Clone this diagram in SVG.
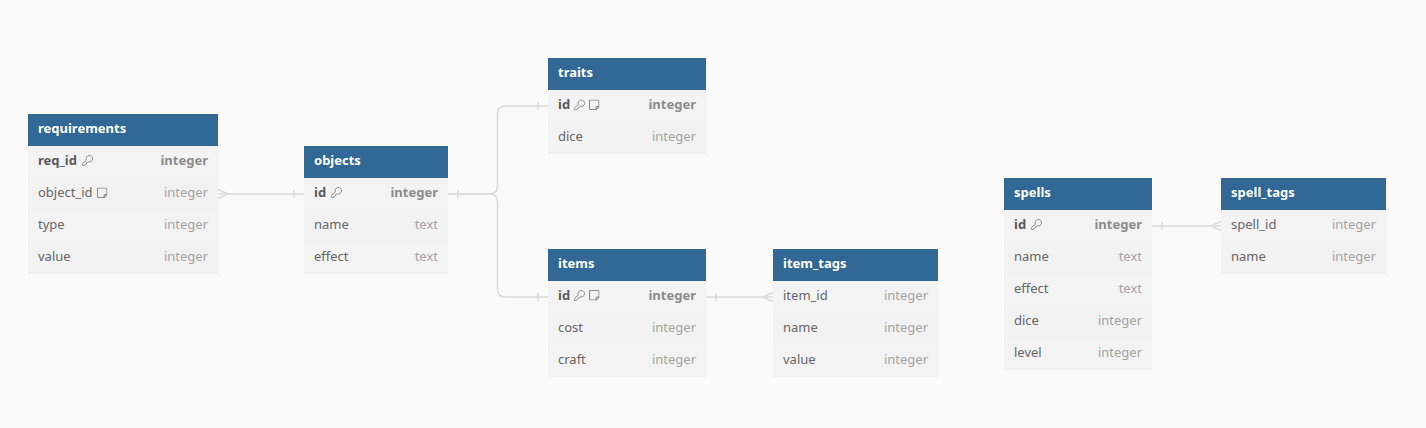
<svg xmlns="http://www.w3.org/2000/svg" width="1426" height="428" viewBox="0 0 1426 428">
<style>
.bg{fill:#fafafa}
.hd{fill:#316896}
.ra{fill:#f3f3f3}
.rb{fill:#f2f2f2}
.ti{font-family:"Noto Sans","Open Sans","DejaVu Sans",sans-serif;font-size:13px;font-weight:bold;fill:#ffffff}
.n{font-family:"Noto Sans","Open Sans","DejaVu Sans",sans-serif;font-size:13px;fill:#666666}
.t{font-family:"Noto Sans","Open Sans","DejaVu Sans",sans-serif;font-size:13px;fill:#a3a3a3;text-anchor:end}
.pk{font-weight:bold}
.n.pk{fill:#5a5a5a}
.t.pk{fill:#8c8c8c}
.cn{fill:none;stroke:#dadada;stroke-width:1.5}
.ic{fill:none;stroke:#8a8a8a;stroke-width:2;stroke-linecap:round;stroke-linejoin:round}
</style>
<defs>
<symbol id="key" viewBox="1 1 22 22">
<path class="ic" d="M2.586 17.414A2 2 0 0 0 2 18.828V21a1 1 0 0 0 1 1h3a1 1 0 0 0 1-1v-1a1 1 0 0 1 1-1h1a1 1 0 0 0 1-1v-1a1 1 0 0 1 1-1h.172a2 2 0 0 0 1.414-.586l.814-.814a6.5 6.5 0 1 0-4-4z"/>
</symbol>
<symbol id="note" viewBox="2 2 20 20">
<path class="ic" d="M5 3h14a2 2 0 0 1 2 2v11l-5 5H5a2 2 0 0 1-2-2V5a2 2 0 0 1 2-2z M21 15.5h-4a1.5 1.5 0 0 0-1.5 1.5v4"/>
</symbol>
</defs>
<rect class="bg" x="0" y="0" width="1426" height="428"/>

<g id="connectors">
<path class="cn" d="M218,194 H304"/>
<path class="cn" d="M218,189.5 L228,194 L218,198.5"/>
<path class="cn" d="M294,190 V198"/>

<path class="cn" d="M448,194 H489.5 Q497.5,194 497.5,186 V114 Q497.5,106 505.5,106 H548"/>
<path class="cn" d="M448,194 H489.5 Q497.5,194 497.5,202 V289 Q497.5,297 505.5,297 H548"/>
<path class="cn" d="M458,190 V198"/>
<path class="cn" d="M538,102 V110"/>
<path class="cn" d="M538,293 V301"/>

<path class="cn" d="M706,297 H773"/>
<path class="cn" d="M716,293 V301"/>
<path class="cn" d="M773,292.5 L763,297 L773,301.5"/>

<path class="cn" d="M1152,226 H1221"/>
<path class="cn" d="M1162,222 V230"/>
<path class="cn" d="M1221,221.5 L1211,226 L1221,230.5"/>
</g>

<g id="requirements">
<rect class="hd" x="28" y="114" width="190" height="32"/>
<text class="ti" x="38" y="133">requirements</text>
<rect class="ra" x="28" y="146" width="190" height="32"/>
<rect class="rb" x="28" y="178" width="190" height="32"/>
<rect class="ra" x="28" y="210" width="190" height="32"/>
<rect class="rb" x="28" y="242" width="190" height="32"/>
<text class="n pk" x="38" y="165">req_id</text><use href="#key" x="82" y="155" width="11" height="11"/>
<text class="t pk" x="208" y="165">integer</text>
<text class="n" x="38" y="197">object_id</text><use href="#note" x="97" y="187.5" width="10.5" height="10.5"/>
<text class="t" x="208" y="197">integer</text>
<text class="n" x="38" y="229">type</text>
<text class="t" x="208" y="229">integer</text>
<text class="n" x="38" y="261">value</text>
<text class="t" x="208" y="261">integer</text>
</g>

<g id="objects">
<rect class="hd" x="304" y="146" width="144" height="32"/>
<text class="ti" x="314" y="165">objects</text>
<rect class="ra" x="304" y="178" width="144" height="32"/>
<rect class="rb" x="304" y="210" width="144" height="32"/>
<rect class="ra" x="304" y="242" width="144" height="32"/>
<text class="n pk" x="314" y="197">id</text><use href="#key" x="331" y="187" width="11" height="11"/>
<text class="t pk" x="438" y="197">integer</text>
<text class="n" x="314" y="229">name</text>
<text class="t" x="438" y="229">text</text>
<text class="n" x="314" y="261">effect</text>
<text class="t" x="438" y="261">text</text>
</g>

<g id="traits">
<rect class="hd" x="548" y="58" width="158" height="32"/>
<text class="ti" x="558" y="77">traits</text>
<rect class="ra" x="548" y="90" width="158" height="32"/>
<rect class="rb" x="548" y="122" width="158" height="32"/>
<text class="n pk" x="558" y="109">id</text><use href="#key" x="574" y="99.5" width="11" height="11"/><use href="#note" x="589" y="99.5" width="10.5" height="10.5"/>
<text class="t pk" x="696" y="109">integer</text>
<text class="n" x="558" y="141">dice</text>
<text class="t" x="696" y="141">integer</text>
</g>

<g id="items">
<rect class="hd" x="548" y="249" width="158" height="32"/>
<text class="ti" x="558" y="268">items</text>
<rect class="ra" x="548" y="281" width="158" height="32"/>
<rect class="rb" x="548" y="313" width="158" height="32"/>
<rect class="ra" x="548" y="345" width="158" height="32"/>
<text class="n pk" x="558" y="300">id</text><use href="#key" x="574" y="290" width="11" height="11"/><use href="#note" x="589" y="290" width="10.5" height="10.5"/>
<text class="t pk" x="696" y="300">integer</text>
<text class="n" x="558" y="332">cost</text>
<text class="t" x="696" y="332">integer</text>
<text class="n" x="558" y="364">craft</text>
<text class="t" x="696" y="364">integer</text>
</g>

<g id="item_tags">
<rect class="hd" x="773" y="249" width="165" height="32"/>
<text class="ti" x="783" y="268">item_tags</text>
<rect class="ra" x="773" y="281" width="165" height="32"/>
<rect class="rb" x="773" y="313" width="165" height="32"/>
<rect class="ra" x="773" y="345" width="165" height="32"/>
<text class="n" x="783" y="300">item_id</text>
<text class="t" x="928" y="300">integer</text>
<text class="n" x="783" y="332">name</text>
<text class="t" x="928" y="332">integer</text>
<text class="n" x="783" y="364">value</text>
<text class="t" x="928" y="364">integer</text>
</g>

<g id="spells">
<rect class="hd" x="1004" y="178" width="148" height="32"/>
<text class="ti" x="1014" y="197">spells</text>
<rect class="ra" x="1004" y="210" width="148" height="32"/>
<rect class="rb" x="1004" y="242" width="148" height="32"/>
<rect class="ra" x="1004" y="274" width="148" height="32"/>
<rect class="rb" x="1004" y="306" width="148" height="32"/>
<rect class="ra" x="1004" y="338" width="148" height="32"/>
<text class="n pk" x="1014" y="229">id</text><use href="#key" x="1031" y="219" width="11" height="11"/>
<text class="t pk" x="1142" y="229">integer</text>
<text class="n" x="1014" y="261">name</text>
<text class="t" x="1142" y="261">text</text>
<text class="n" x="1014" y="293">effect</text>
<text class="t" x="1142" y="293">text</text>
<text class="n" x="1014" y="325">dice</text>
<text class="t" x="1142" y="325">integer</text>
<text class="n" x="1014" y="357">level</text>
<text class="t" x="1142" y="357">integer</text>
</g>

<g id="spell_tags">
<rect class="hd" x="1221" y="178" width="165" height="32"/>
<text class="ti" x="1231" y="197">spell_tags</text>
<rect class="ra" x="1221" y="210" width="165" height="32"/>
<rect class="rb" x="1221" y="242" width="165" height="32"/>
<text class="n" x="1231" y="229">spell_id</text>
<text class="t" x="1376" y="229">integer</text>
<text class="n" x="1231" y="261">name</text>
<text class="t" x="1376" y="261">integer</text>
</g>
</svg>
